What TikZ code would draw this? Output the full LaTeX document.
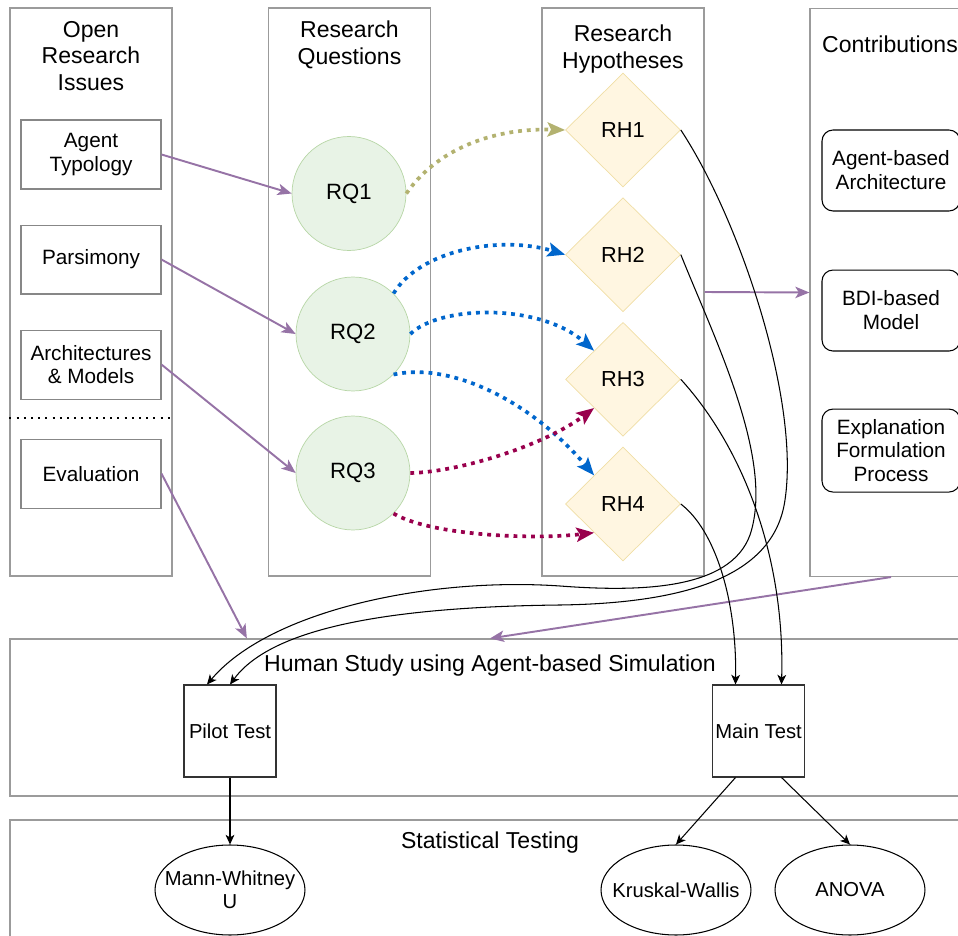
\documentclass[tikz,border=0pt]{standalone}
\usepackage{fontspec}
\setmainfont{Liberation Sans}
\usetikzlibrary{positioning,shapes.geometric,arrows.meta,calc}
\definecolor{lanegray}{RGB}{155,155,155}
\definecolor{boxgray}{RGB}{135,135,135}
\definecolor{rqfill}{RGB}{232,243,230}
\definecolor{rqdraw}{RGB}{183,214,166}
\definecolor{rhfill}{RGB}{255,246,225}
\definecolor{rhdraw}{RGB}{240,222,165}
\definecolor{purp}{RGB}{150,115,166}
\definecolor{rqblue}{RGB}{0,102,204}
\definecolor{hypolive}{RGB}{179,178,112}
\definecolor{rqcrim}{RGB}{153,0,77}
\tikzset{
  lane/.style={draw=lanegray, line width=0.7pt, minimum width=3.24cm, minimum height=11.36cm, inner sep=0pt},
  band/.style={draw=lanegray, line width=0.7pt, minimum width=19.2cm, minimum height=3.14cm, inner sep=0pt},
  ttl/.style={align=center, inner sep=0pt, font=\fontsize{13.1pt}{15.3pt}\selectfont},
  issue/.style={draw=boxgray, line width=0.6pt, minimum width=2.8cm, minimum height=1.38cm, align=center, font=\fontsize{11.8pt}{13.6pt}\selectfont},
  rq/.style={circle, draw=rqdraw, fill=rqfill, minimum size=2.28cm, font=\fontsize{12.6pt}{15pt}\selectfont},
  rh/.style={diamond, draw=rhdraw, fill=rhfill, minimum width=2.3cm, minimum height=2.28cm, inner sep=0pt, font=\fontsize{12.4pt}{15pt}\selectfont},
  contrib/.style={draw, line width=0.6pt, rounded corners=0.22cm, minimum width=2.76cm, minimum height=1.62cm, inner sep=2pt, align=center, font=\fontsize{11.8pt}{13.6pt}\selectfont},
  test/.style={draw=black!80, line width=0.6pt, minimum size=1.84cm, inner sep=0.5pt, font=\fontsize{11.5pt}{13.6pt}\selectfont},
  stat/.style={ellipse, draw, line width=0.6pt, minimum width=3cm, minimum height=1.8cm, inner sep=0pt, align=center, font=\fontsize{11.5pt}{13.3pt}\selectfont},
  sep/.style={line width=1.1pt, dash pattern=on 1.1pt off 3pt},
  purpar/.style={color=purp, line width=1.1pt, -{Stealth[length=8pt,width=6.5pt,inset=2pt]}},
  dotar/.style={line width=2.1pt, dash pattern=on 2.2pt off 2.8pt, -{Stealth[length=10pt,width=8pt,inset=2pt]}},
  blkar/.style={color=black, line width=0.6pt, -{Stealth[length=5.5pt,width=5pt,inset=1.5pt]}}
}

\begin{document}
\begin{tikzpicture}[x=0.02cm,y=-0.02cm]
\useasboundingbox (0,0) rectangle (958,936);
% lanes
\node[lane] (col_1) at (91,292) {};
\node[lane] (col_2) at (349.5,292) {};
\node[lane] (col_3) at (623,292) {};
\node[lane] (col_4) at (891,292.5) {};
\node[ttl] (t_1) at (91,56) {Open\\Research\\Issues};
\node[ttl] (t_2) at (349.5,45) {Research\\Questions};
\node[ttl] (t_3) at (623,49) {Research\\Hypotheses};
\node[ttl] (t_4) at (890,44) {Contributions};
\node[band] (hs) at (490,717.5) {};
\node[band, minimum height=2.6cm] (st) at (490,885) {};
\node[ttl] (t_5) at (490,665.5) {Human Study using Agent-based Simulation};
\node[ttl] (t_6) at (490,843) {Statistical Testing};

% open research issues
\node[issue] (it_1) at (91,154.5) {Agent\\Typology};
\node[issue] (it_2) [below=0.7cm of it_1] {Parsimony};
\node[issue] (it_3) [below=0.7cm of it_2] {Architectures\\\& Models};
\node[issue] (it_4) [below=0.78cm of it_3] {Evaluation};
\draw[sep] (col_1.west |- 0,418) -- (col_1.east |- 0,418);

% questions and hypotheses
\node[rq] (rq_1) at (349,193.5) {RQ1};
\node[rq] (rq_2) at (353,334) {RQ2};
\node[rq] (rq_3) at (353,473) {RQ3};
\node[rh] (rh_1) at (623,130) {RH1};
\node[rh] (rh_2) [below=0.2cm of rh_1] {RH2};
\node[rh] (rh_3) [below=0.2cm of rh_2] {RH3};
\node[rh] (rh_4) [below=0.2cm of rh_3] {RH4};

% contributions
\node[contrib] (co_1) at (891,170.5) {Agent-based\\Architecture};
\node[contrib] (co_2) [below=1.16cm of co_1] {BDI-based\\Model};
\node[contrib, minimum height=1.66cm] (co_3) [below=1.14cm of co_2] {Explanation\\Formulation\\Process};

% study and tests
\node[test] (pilot) at (230,731) {Pilot Test};
\node[test] (main) at (758.5,731) {Main Test};
\node[stat] (mw) at (230,890) {\makebox[0pt]{Mann-Whitney}\\U};
\node[stat] (kw) at (676,890) {\makebox[0pt]{Kruskal-Wallis}};
\node[stat] (anova) at (850,890) {ANOVA};

\path[purpar]
  (it_1.east) edge (rq_1.west)
  (it_2.east) edge (rq_2.west)
  (it_3.east) edge (rq_3.west)
  (it_4.east) edge ($(hs.north west)!0.247!(hs.north east)$)
  (col_3.east) edge (col_4.west)
  (col_4.south) edge (hs.north);

\draw[dotar, hypolive] (rq_1.east) .. controls (440,145) and (500,128) .. (rh_1.west);
\draw[dotar, rqblue] (rq_2.45) .. controls (420,250) and (500,235) .. (rh_2.west);
\draw[dotar, rqblue] (rq_2.east) .. controls (440,305) and (540,303) .. (rh_3.north west);
\draw[dotar, rqblue] (rq_2.-45) .. controls (450,362) and (530,400) .. (rh_4.north west);
\draw[dotar, rqcrim] (rq_3.east) .. controls (460,472) and (545,445) .. (rh_3.south west);
\draw[dotar, rqcrim] (rq_3.-45) .. controls (430,535) and (530,540) .. (rh_4.south west);

\draw[blkar] (rh_1.east) .. controls (740,220) and (800,400) .. (785,500)
  .. controls (775,570) and (700,603) .. (560,605)
  .. controls (380,607) and (270,630) .. (pilot.north);
\draw[blkar] (rh_2.east) .. controls (715,340) and (775,460) .. (750,535)
  .. controls (730,590) and (640,592) .. (560,586)
  .. controls (430,577) and (270,610) .. ([xshift=-0.46cm]pilot.north);
\draw[blkar] (rh_3.east) .. controls (745,450) and (785,560) .. ([xshift=0.46cm]main.north);
\draw[blkar] (rh_4.east) .. controls (715,530) and (737,600) .. ([xshift=-0.46cm]main.north);
\path[blkar]
  (pilot) edge (mw)
  ([xshift=-0.46cm]main.south) edge (kw.north)
  ([xshift=0.46cm]main.south) edge (anova.north);
\end{tikzpicture}
\end{document}
